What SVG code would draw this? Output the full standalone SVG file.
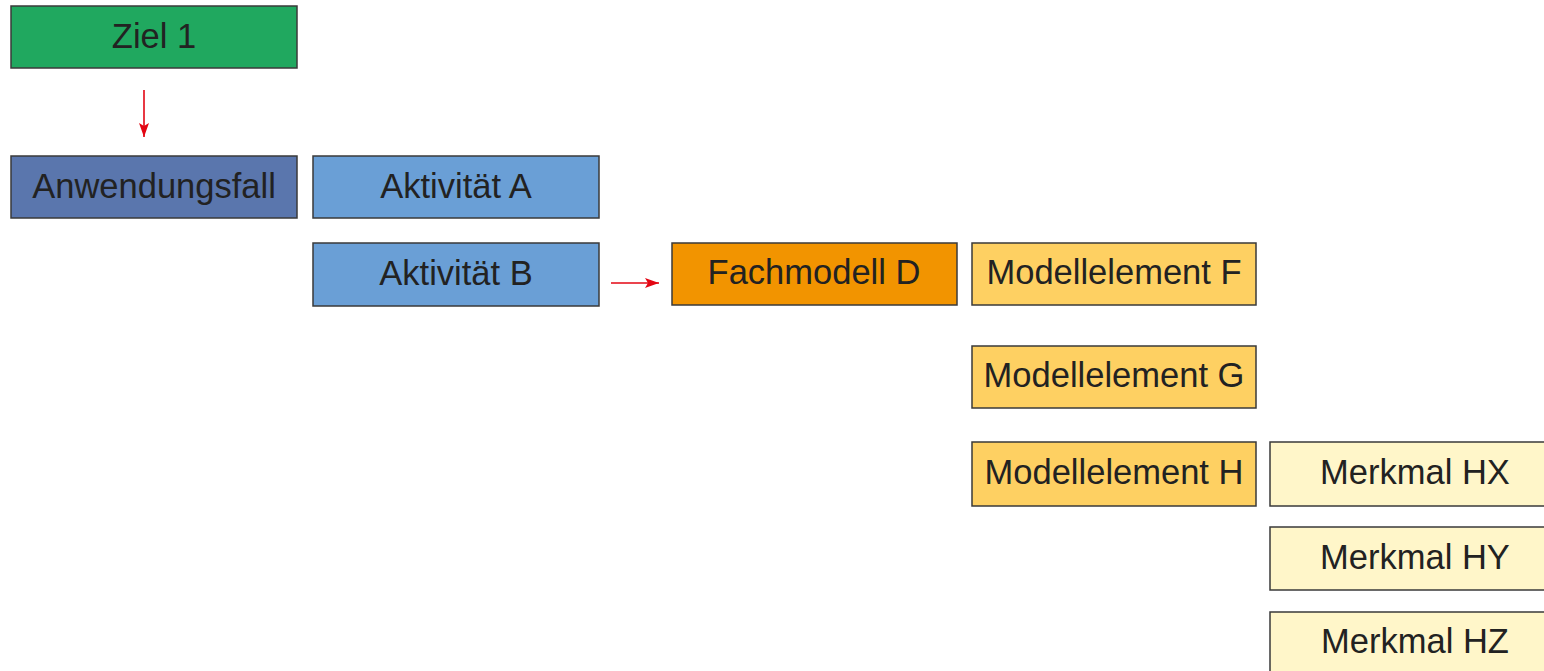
<svg xmlns="http://www.w3.org/2000/svg" width="1544" height="671" viewBox="0 0 1544 671">
<style>
rect{stroke:#3a3a3a;stroke-width:1.5}
text{font-family:"Liberation Sans",Arial,sans-serif;font-size:34.5px;fill:#222;text-anchor:middle}
.g{fill:#20a85f}.db{fill:#5a76ad}.lb{fill:#6a9fd6}.or{fill:#f29400}.ye{fill:#fed062}.ly{fill:#fff6c9}
.c{stroke:#e30613;stroke-width:1.6;fill:none}
</style>
<defs>
<marker id="ah" viewBox="0 0 14 10" refX="14" refY="5" markerWidth="14" markerHeight="10" markerUnits="userSpaceOnUse" orient="auto"><path d="M0,0 L14,5 L0,10 L3,5 z" fill="#e30613"/></marker>
</defs>
<rect width="1544" height="671" fill="#fff" style="stroke:none"/>
<g id="ziel1"><rect class="g" x="11" y="6" width="286" height="62"/><text x="154" y="48">Ziel 1</text></g>
<g id="anwendungsfall"><rect class="db" x="11" y="156" width="286" height="62"/><text x="154" y="198">Anwendungsfall</text></g>
<g id="aktivitaetA"><rect class="lb" x="313" y="156" width="286" height="62"/><text x="456" y="198">Aktivität A</text></g>
<g id="aktivitaetB"><rect class="lb" x="313" y="243" width="286" height="63"/><text x="456" y="285">Aktivität B</text></g>
<g id="fachmodellD"><rect class="or" x="672" y="243" width="285" height="62"/><text x="814" y="284">Fachmodell D</text></g>
<g id="modellelementF"><rect class="ye" x="972" y="243" width="284" height="62"/><text x="1114" y="284">Modellelement F</text></g>
<g id="modellelementG"><rect class="ye" x="972" y="346" width="284" height="62"/><text x="1114" y="387">Modellelement G</text></g>
<g id="modellelementH"><rect class="ye" x="972" y="442" width="284" height="64"/><text x="1114" y="484">Modellelement H</text></g>
<g id="merkmalHX"><rect class="ly" x="1270" y="442" width="290" height="64"/><text x="1415" y="484">Merkmal HX</text></g>
<g id="merkmalHY"><rect class="ly" x="1270" y="527" width="290" height="63"/><text x="1415" y="569">Merkmal HY</text></g>
<g id="merkmalHZ"><rect class="ly" x="1270" y="612" width="290" height="70"/><text x="1415" y="653">Merkmal HZ</text></g>
<g id="connectors">
<line class="c" x1="144" y1="90" x2="144" y2="137" marker-end="url(#ah)"/>
<line class="c" x1="611" y1="283" x2="659" y2="283" marker-end="url(#ah)"/>
</g>
</svg>
